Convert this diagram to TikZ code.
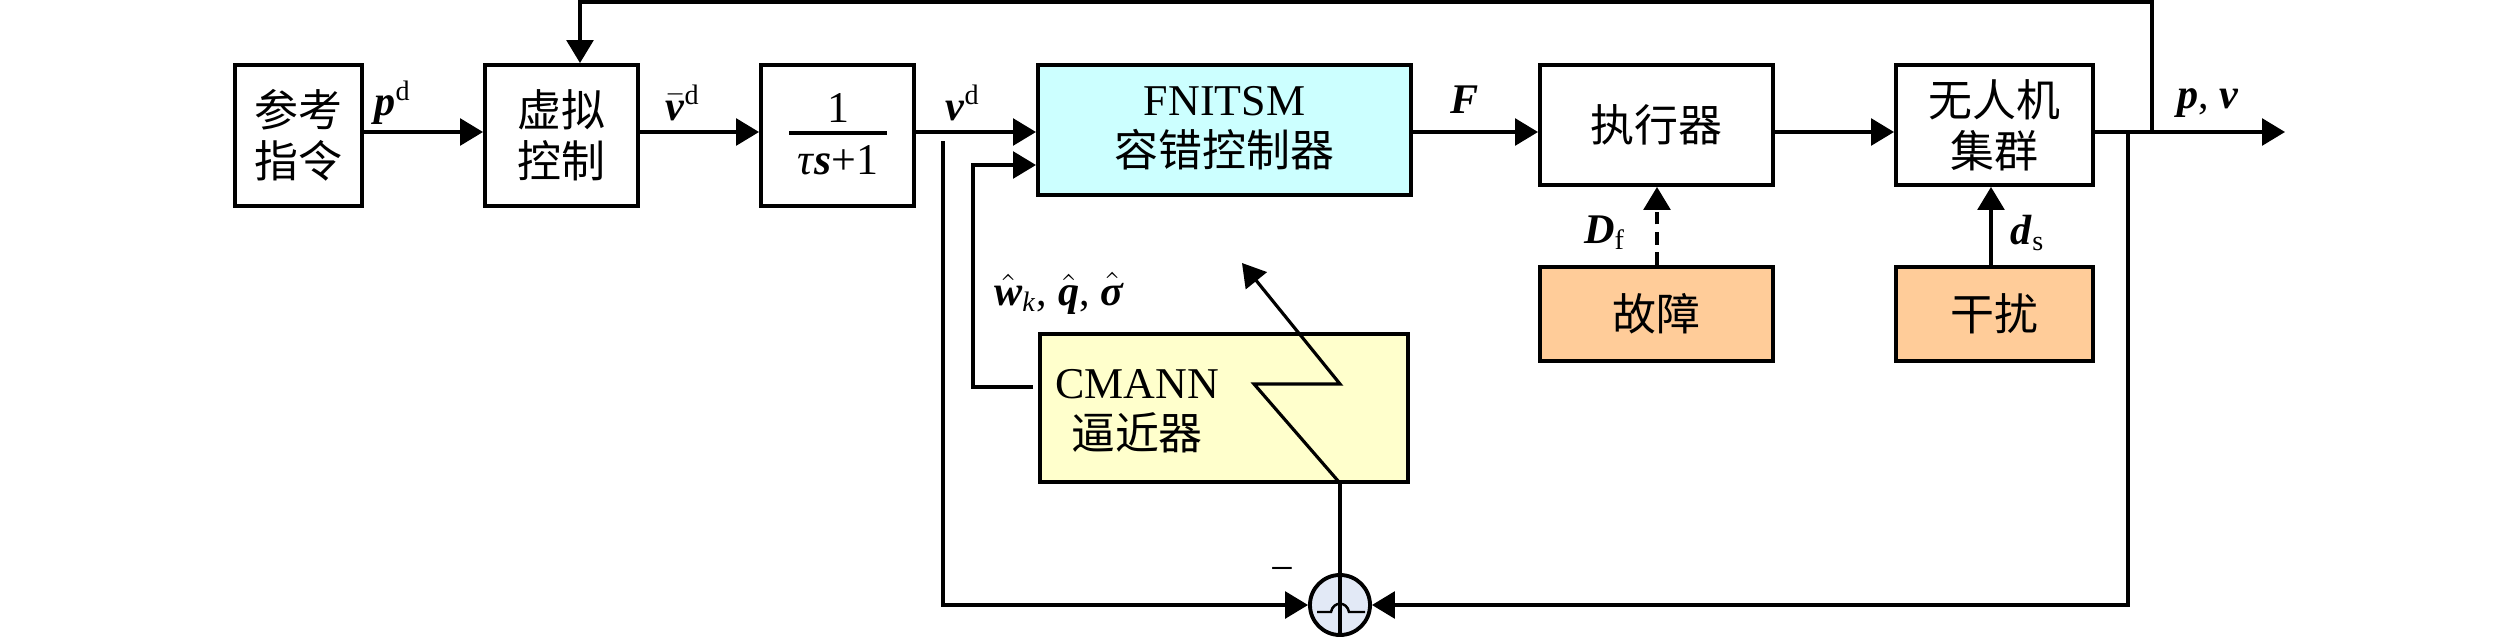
\documentclass[tikz,border=0pt]{standalone}
\usepackage{fontspec}
\setmainfont{Liberation Serif}
\newfontfamily\cjk{Noto Sans CJK SC}
\usetikzlibrary{arrows.meta,calc}
\definecolor{cyanfill}{RGB}{204,255,255}
\definecolor{yellowfill}{RGB}{255,255,204}
\definecolor{peach}{RGB}{255,204,153}
\definecolor{sumfill}{RGB}{226,233,246}
\newcommand\bi[1]{\textbf{\textit{#1}}}
\newcommand\hatbi[1]{$\hat{\mbox{\bi{#1}}}$}
\newcommand\barbi[1]{$\bar{\mbox{\bi{#1}}}$}
\begin{document}
\begin{tikzpicture}[x=0.01cm,y=-0.01cm,
  box/.style={draw,line width=1.1pt,rectangle,inner sep=0pt,align=center,
    font=\fontsize{12.5}{14.5}\selectfont\cjk},
  arr/.style={line width=0.9pt,-{Triangle[length=6.5pt,width=7.6pt]}},
  ln/.style={line width=0.9pt},
  lbl/.style={inner sep=0pt,font=\fontsize{12}{14}\selectfont},
  txt/.style={inner sep=0pt,align=center,font=\fontsize{12.5}{14.5}\selectfont}]
\useasboundingbox (0,0) rectangle (2520,639);

% blocks
\node[box,minimum width=1.27cm,minimum height=1.41cm] (ref) at (298.5,135.5) {参考\\指令};
\node[box,minimum width=1.53cm,minimum height=1.41cm] (virt) at (561.5,135.5) {虚拟\\控制};
\node[box,minimum width=1.53cm,minimum height=1.41cm] (filt) at (837.5,135.5) {};
\node[txt] (fnum) at (838,108) {1};
\node[txt] (fden) at (838,160) {\textit{τ}\bi{s}+1};
\draw[line width=1pt] (789,133) -- (887,133);
\node[box,fill=cyanfill,minimum width=3.73cm,minimum height=1.30cm] (fnitsm) at (1224.5,130) {};
\node[txt] (fnitsmtxt) at (1224.5,128) {FNITSM\\{\cjk 容错控制器}};
\node[box,minimum width=2.33cm,minimum height=1.20cm] (act) at (1656.5,125) {执行器};
\node[box,minimum width=1.97cm,minimum height=1.20cm] (uav) at (1994.5,125) {无人机\\集群};
\node[box,fill=peach,minimum width=2.33cm,minimum height=0.94cm] (fault) at (1656.5,314) {故障};
\node[box,fill=peach,minimum width=1.97cm,minimum height=0.94cm] (dist) at (1994.5,314) {干扰};
\node[box,fill=yellowfill,minimum width=3.68cm,minimum height=1.48cm] (cmann) at (1224,408) {};
\node[txt] (cmanntxt) at (1137,411) {CMANN\\{\cjk 逼近器}};
\node[draw,circle,line width=1.1pt,fill=sumfill,minimum size=0.60cm,inner sep=0pt] (sum) at (1340,605) {};
\draw[line width=0.7pt] (1317,612) -- (1331,612) .. controls (1333,601) and (1347,601) .. (1349,612) -- (1365,612);

% coordinates
\coordinate (my) at (0,132);
\coordinate (out) at (2285,132);
\coordinate (tfb) at (2152,132);
\coordinate (topL) at (580,2);
\coordinate (bfb) at (2128,132);
\coordinate (vb) at (943,141);
\coordinate (cm1) at (1033,387);
\coordinate (cmx) at (973,165);
\coordinate (z0) at (1339,482);
\coordinate (z1) at (1254,384);
\coordinate (z2) at (1340,384);
\coordinate (z3) at (1242,263);

% main chain
\draw[arr] (ref.east |- my) -- (virt.west |- my);
\draw[arr] (virt.east |- my) -- (filt.west |- my);
\draw[arr] (filt.east |- my) -- (fnitsm.west |- my);
\draw[arr] (fnitsm.east |- my) -- (act.west |- my);
\draw[arr] (act.east |- my) -- (uav.west |- my);
\draw[arr] (uav.east |- my) -- (out);
% feedbacks
\draw[arr] (tfb) |- (topL) -- (virt.north -| topL);
\draw[arr] (bfb) |- (sum.east);
\draw[arr] (vb) |- (sum.west);
\draw[arr] (cm1) -| (cmx) -- (fnitsm.west |- cmx);
\draw[ln] (sum.south) -- (cmann.south -| sum);
\draw[arr] (z0) -- (z1) -- (z2) -- (z3);
% disturbances
\draw[arr,dash pattern=on 3.6pt off 2.2pt] (fault.north -| 1657,0) -- (act.south -| 1657,0);
\draw[arr] (dist.north -| 1991,0) -- (uav.south -| 1991,0);

% labels
\node[lbl] (lpd) at (393,103) {\bi{p}\textsuperscript{d}};
\node[lbl] (lvbar) at (683,103) {\barbi{v}\textsuperscript{d}};
\node[lbl] (lvd) at (963,103) {\bi{v}\textsuperscript{d}};
\node[lbl] (lF) at (1465,100) {\bi{F}};
\node[lbl] (lpv) at (2208,103) {\bi{p}, \bi{v}};
\node[lbl] (lDf) at (1605,233) {\bi{D}\textsubscript{f}};
\node[lbl] (lds) at (2028,233) {\bi{d}\textsubscript{s}};
\node[lbl] (lw) at (1059,293) {\hatbi{w}\textsubscript{\textit{k}}, \hatbi{q}, \hatbi{σ}};
\node[lbl] (lminus) at (1282,575) {−};
\end{tikzpicture}
\end{document}
